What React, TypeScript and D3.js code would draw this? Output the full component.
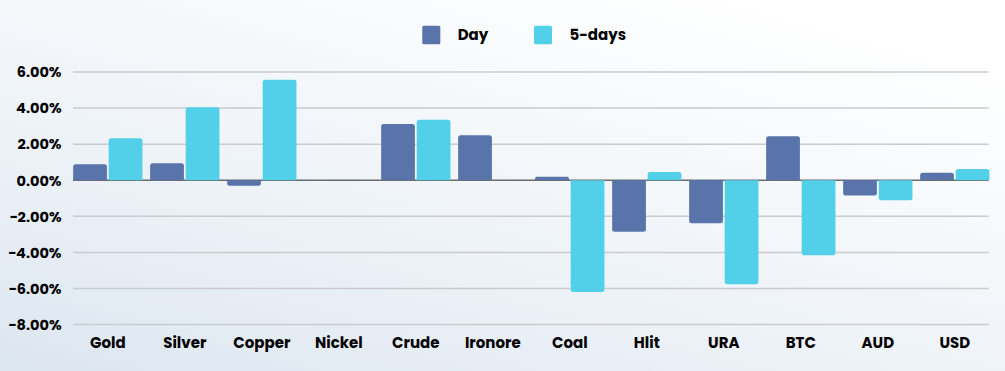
import * as d3 from "d3";
import React from "react";

const categories = ["Gold", "Silver", "Copper", "Nickel", "Crude", "Ironore", "Coal", "Hlit", "URA", "BTC", "AUD", "USD"];
const dayValues = [0.89, 0.94, -0.3, 0, 3.12, 2.49, 0.2, -2.85, -2.38, 2.44, -0.85, 0.42];
const fiveDayValues = [2.33, 4.04, 5.57, 0, 3.36, 0, -6.2, 0.46, -5.76, -4.16, -1.11, 0.63];
const yTicks = [6, 4, 2, 0, -2, -4, -6, -8];
const seriesNames = ["Day", "5-days"];

const W = 1005;
const H = 371;
const colors = ["#5874aa", "#52d0ea"];
const font = "Poppins, Inter, 'Noto Sans', sans-serif";

// bar with rounded outer end, square at the base
function barPath(x: number, w: number, y0: number, y1: number, r: number) {
  const h = Math.abs(y1 - y0);
  if (h < 0.5) return "";
  const rr = Math.min(r, h / 2, w / 2);
  if (y1 < y0) {
    return `M${x},${y0}V${y1 + rr}Q${x},${y1} ${x + rr},${y1}H${x + w - rr}Q${x + w},${y1} ${x + w},${y1 + rr}V${y0}Z`;
  }
  return `M${x},${y0}V${y1 - rr}Q${x},${y1} ${x + rr},${y1}H${x + w - rr}Q${x + w},${y1} ${x + w},${y1 - rr}V${y0}Z`;
}

export default function App() {
  const x0 = d3.scaleBand<string>().domain(categories).range([69.3, 993.3]).padding(0);
  const bw = x0.bandwidth();
  const x1 = d3
    .scaleBand<string>()
    .domain(seriesNames)
    .range([bw * 0.05, bw * 0.95])
    .paddingInner(0.05);
  const y = d3.scaleLinear().domain([-8, 6]).range([324.6, 72]);

  const gridLeft = 73;
  const gridRight = 988.7;
  const series = [dayValues, fiveDayValues];

  return (
    <svg
      width={W}
      height={H}
      style={{ position: "absolute", left: 0, top: 0 }}
      fontFamily={font}
    >
      <defs>
        <linearGradient id="bg" x1="0" y1="1" x2="0.75" y2="0">
          <stop offset="0" stopColor="#dce6f0" />
          <stop offset="0.45" stopColor="#eef3f8" />
          <stop offset="1" stopColor="#ffffff" />
        </linearGradient>
      </defs>
      <rect width={W} height={H} fill="url(#bg)" />

      {/* legend */}
      {seriesNames.map((s, i) => {
        const lx = [422.3, 534][i];
        return (
          <g key={s}>
            <rect x={lx} y={25.7} width={18} height={18.6} rx={1.5} fill={colors[i]} />
            <text x={lx + 35.4} y={39.5} fontSize={15} fontWeight={700} fill="#000">
              {s}
            </text>
          </g>
        );
      })}

      {/* grid */}
      {yTicks.map((t) => (
        <g key={t}>
          <line
            x1={gridLeft}
            x2={gridRight}
            y1={y(t)}
            y2={y(t)}
            stroke={t === 0 ? "#6b6b6b" : "#c9cbce"}
            strokeWidth={t === 0 ? 1.3 : 1.5}
          />
          <text
            x={61.5}
            y={y(t) + 5.3}
            textAnchor="end"
            fontSize={14.5}
            fontWeight={700}
            fill="#000"
          >
            {d3.format(".2f")(t) + "%"}
          </text>
        </g>
      ))}

      {/* bars */}
      {categories.map((c, ci) => (
        <g key={c} transform={`translate(${x0(c)},0)`}>
          {series.map((vals, si) => (
            <path
              key={si}
              d={barPath(x1(seriesNames[si])!, x1.bandwidth(), y(0), y(vals[ci]), 2.5)}
              fill={colors[si]}
            />
          ))}
        </g>
      ))}

      {/* x labels */}
      {categories.map((c) => (
        <text
          key={c}
          x={x0(c)! + bw / 2}
          y={347.7}
          textAnchor="middle"
          fontSize={15}
          fontWeight={700}
          fill="#000"
        >
          {c}
        </text>
      ))}
    </svg>
  );
}
